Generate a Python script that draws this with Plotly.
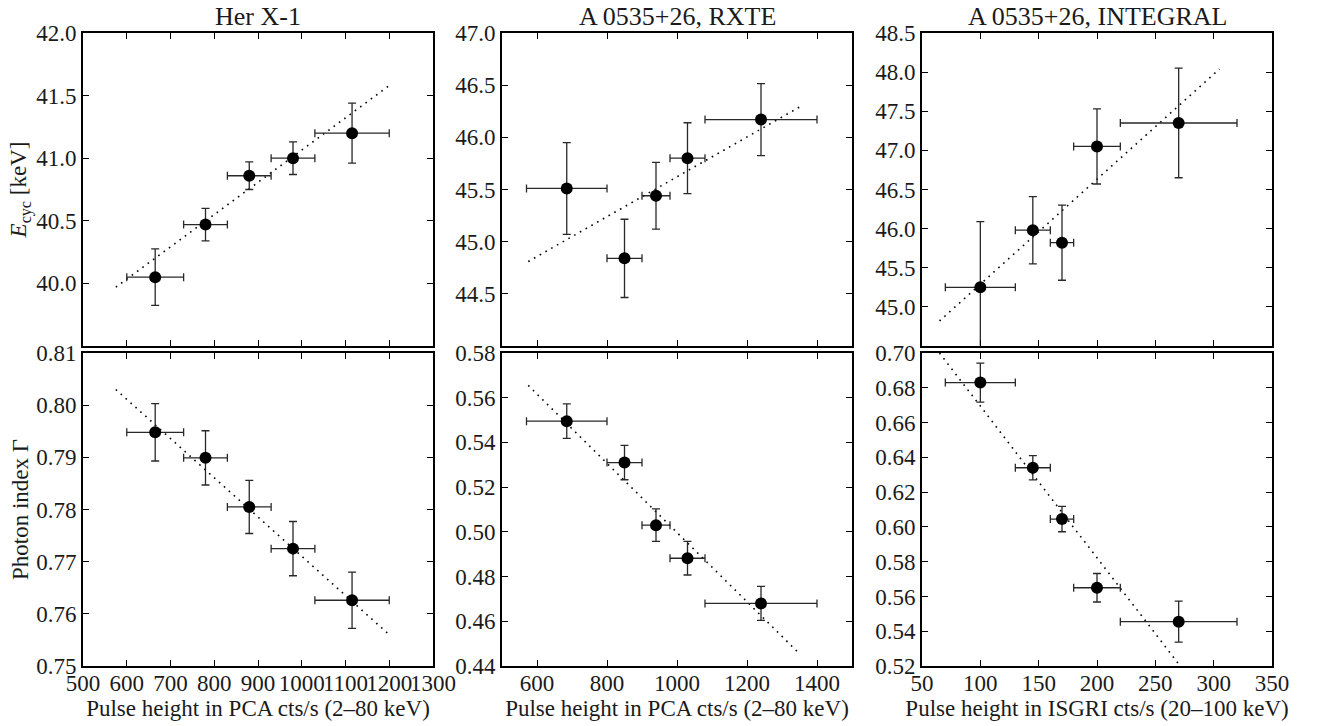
import plotly.graph_objects as go

# ---------------- data ----------------
her_x = [665, 780, 880, 980, 1115]
her_xerr = [65, 50, 50, 50, 85]
her_ecyc = [40.05, 40.47, 40.86, 41.00, 41.20]
her_ecyc_err = [0.225, 0.13, 0.11, 0.13, 0.24]
her_gamma = [0.7948, 0.7899, 0.7805, 0.7725, 0.7626]
her_gamma_err = [0.0055, 0.0052, 0.0051, 0.0052, 0.0054]
her_fit_x = [575, 1200]
her_fit_ecyc = [39.97, 41.58]
her_fit_gamma = [0.803, 0.756]

rxte_x = [685, 850, 940, 1030, 1240]
rxte_xerr = [115, 50, 40, 50, 160]
rxte_ecyc = [45.51, 44.84, 45.44, 45.80, 46.17]
rxte_ecyc_err = [0.44, 0.375, 0.32, 0.34, 0.345]
rxte_gamma = [0.5495, 0.5310, 0.5030, 0.4882, 0.4680]
rxte_gamma_err = [0.0077, 0.0077, 0.0073, 0.0075, 0.0076]
rxte_fit_x = [575, 1350]
rxte_fit_ecyc = [44.81, 46.29]
rxte_fit_gamma = [0.5655, 0.4455]

integ_x = [100, 145, 170, 200, 270]
integ_xerr = [30, 15, 10, 20, 50]
integ_ecyc = [45.25, 45.98, 45.82, 47.05, 47.35]
integ_ecyc_err = [0.84, 0.43, 0.48, 0.48, 0.70]
integ_gamma = [0.6830, 0.6340, 0.6045, 0.5650, 0.5455]
integ_gamma_err = [0.0112, 0.0070, 0.0073, 0.0082, 0.0118]
integ_fit_x = [65, 305]
integ_fit_ecyc = [44.82, 48.04]
integ_fit_gamma = [0.700, 0.4906]

titles = ["Her X-1", "A 0535+26, RXTE", "A 0535+26, INTEGRAL"]
xlabels = ["Pulse height in PCA cts/s (2\u201380 keV)",
           "Pulse height in PCA cts/s (2\u201380 keV)",
           "Pulse height in ISGRI cts/s (20\u2013100 keV)"]

# ---------------- layout geometry ----------------
W, H = 1319, 726
xdoms = [[83 / W, 433 / W], [502 / W, 852 / W], [922 / W, 1272 / W]]
ytop = [1 - 346 / H, 1 - 33 / H]
ybot = [1 - 666 / H, 1 - 353 / H]

FONT = "Liberation Serif"
ECOL = "rgb(40,40,40)"
TXT = "#1a1a1a"

fig = go.Figure()

panels = [
    (her_x, her_xerr, her_ecyc, her_ecyc_err, her_gamma, her_gamma_err,
     her_fit_x, her_fit_ecyc, her_fit_gamma),
    (rxte_x, rxte_xerr, rxte_ecyc, rxte_ecyc_err, rxte_gamma, rxte_gamma_err,
     rxte_fit_x, rxte_fit_ecyc, rxte_fit_gamma),
    (integ_x, integ_xerr, integ_ecyc, integ_ecyc_err, integ_gamma, integ_gamma_err,
     integ_fit_x, integ_fit_ecyc, integ_fit_gamma),
]

xranges = [[500, 1300], [500, 1500], [50, 350]]
xticks = [list(range(500, 1301, 100)), list(range(600, 1401, 200)), list(range(50, 351, 50))]
ytop_ranges = [[39.5, 42.0], [44.0, 47.0], [44.5, 48.5]]
ytop_ticks = [[40.0, 40.5, 41.0, 41.5, 42.0],
              [44.5, 45.0, 45.5, 46.0, 46.5, 47.0],
              [45.0, 45.5, 46.0, 46.5, 47.0, 47.5, 48.0, 48.5]]
ybot_ranges = [[0.75, 0.81], [0.44, 0.58], [0.52, 0.70]]
ybot_ticks = [[0.75, 0.76, 0.77, 0.78, 0.79, 0.80, 0.81],
              [0.44, 0.46, 0.48, 0.50, 0.52, 0.54, 0.56, 0.58],
              [0.52, 0.54, 0.56, 0.58, 0.60, 0.62, 0.64, 0.66, 0.68, 0.70]]

common_axis = dict(
    showline=True, linecolor="black", linewidth=2, mirror="ticks",
    ticks="inside", ticklen=6, tickwidth=1, tickcolor="black",
    showgrid=False, zeroline=False, automargin=False,
    tickfont=dict(family=FONT, size=23, color=TXT),
)
DOT = "1.6px,5px"

for i, (px, pxe, pe, pee, pg, pge, fx, fe, fg) in enumerate(panels):
    xa_top = f"x{2*i+1}"
    ya_top = f"y{2*i+1}"
    xa_bot = f"x{2*i+2}"
    ya_bot = f"y{2*i+2}"
    # top panel: cyclotron energy
    fig.add_trace(go.Scatter(x=fx, y=fe, mode="lines", xaxis=xa_top, yaxis=ya_top,
                             line=dict(color="black", width=1.6, dash=DOT), showlegend=False))
    fig.add_trace(go.Scatter(
        x=px, y=pe, mode="markers", xaxis=xa_top, yaxis=ya_top, showlegend=False,
        marker=dict(color="black", size=12),
        error_x=dict(type="data", array=pxe, color=ECOL, thickness=1.3, width=4),
        error_y=dict(type="data", array=pee, color=ECOL, thickness=1.3, width=4)))
    # bottom panel: photon index
    fig.add_trace(go.Scatter(x=fx, y=fg, mode="lines", xaxis=xa_bot, yaxis=ya_bot,
                             line=dict(color="black", width=1.6, dash=DOT), showlegend=False))
    fig.add_trace(go.Scatter(
        x=px, y=pg, mode="markers", xaxis=xa_bot, yaxis=ya_bot, showlegend=False,
        marker=dict(color="black", size=12),
        error_x=dict(type="data", array=pxe, color=ECOL, thickness=1.3, width=4),
        error_y=dict(type="data", array=pge, color=ECOL, thickness=1.3, width=4)))

    n_top = 2 * i + 1
    n_bot = 2 * i + 2
    kx = "xaxis" if n_top == 1 else f"xaxis{n_top}"
    ky = "yaxis" if n_top == 1 else f"yaxis{n_top}"
    fig.layout[kx] = dict(common_axis, domain=xdoms[i], anchor=ya_top, range=xranges[i],
                          tickmode="array", tickvals=xticks[i], showticklabels=False)
    fig.layout[ky] = dict(common_axis, domain=ytop, anchor=xa_top, range=ytop_ranges[i],
                          tickmode="array", tickvals=ytop_ticks[i], tickformat=".1f")
    fig.layout[f"xaxis{n_bot}"] = dict(common_axis, domain=xdoms[i], anchor=ya_bot,
                                       range=xranges[i], tickmode="array", tickvals=xticks[i],
                                       tickangle=0, ticklabelstandoff=-5,
                                       title=dict(text=xlabels[i], standoff=0,
                                                  font=dict(family=FONT, size=23, color=TXT)))
    fig.layout[f"yaxis{n_bot}"] = dict(common_axis, domain=ybot, anchor=xa_bot, range=ybot_ranges[i],
                                       tickmode="array", tickvals=ybot_ticks[i], tickformat=".2f")
    fig.add_annotation(text=titles[i], xref="paper", yref="paper",
                       x=(xdoms[i][0] + xdoms[i][1]) / 2, y=1 - 16 / H,
                       showarrow=False, xanchor="center", yanchor="middle",
                       font=dict(family=FONT, size=26, color=TXT))

fig.layout["yaxis"]["title"] = dict(text="<i>E</i><sub>cyc</sub> [keV]", standoff=3,
                                    font=dict(family=FONT, size=23, color=TXT))
fig.layout["yaxis2"]["title"] = dict(text="Photon index \u0393", standoff=1,
                                     font=dict(family=FONT, size=23, color=TXT))

fig.update_layout(width=W, height=H, margin=dict(l=0, r=0, t=0, b=0, autoexpand=False),
                  paper_bgcolor="white", plot_bgcolor="white", showlegend=False)

fig.write_html("out.html", config={"displayModeBar": False},
               post_script="document.body.style.margin='0';document.body.style.overflow='hidden';")
